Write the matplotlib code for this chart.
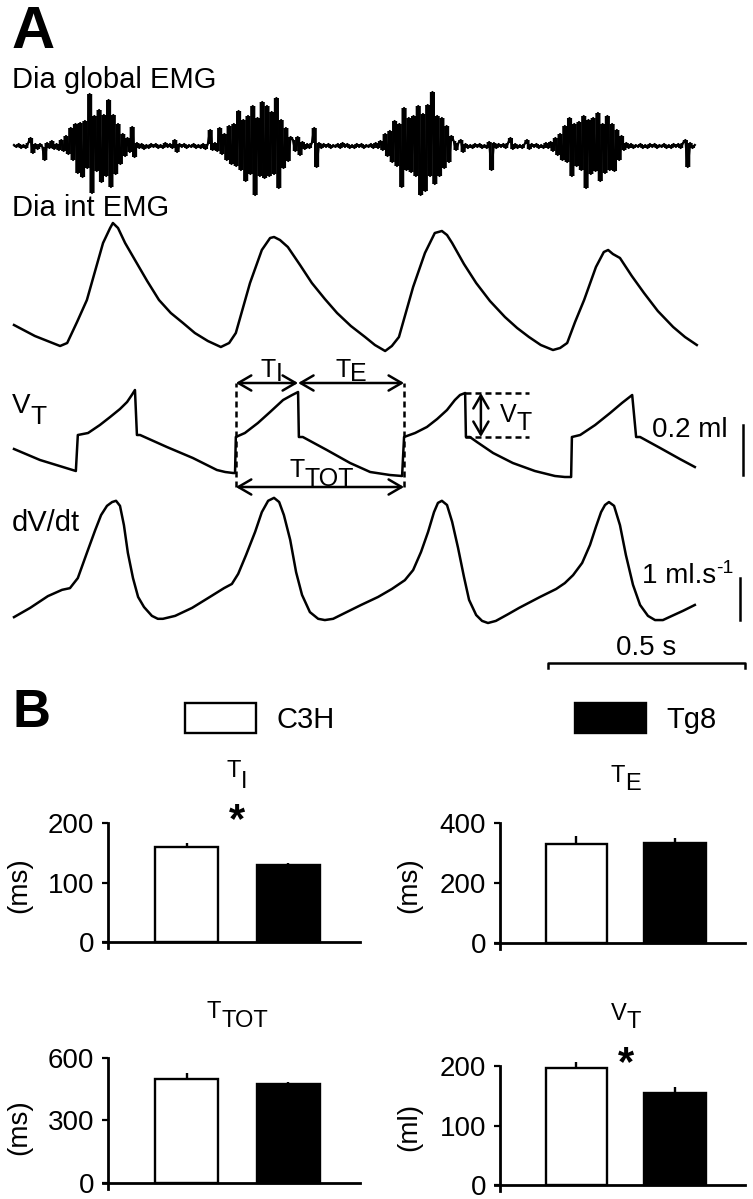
import numpy as np
import matplotlib
matplotlib.use("Agg")
import matplotlib.pyplot as plt
import matplotlib.transforms as mtransforms
from matplotlib.patches import Patch

plt.rcParams['font.family'] = ['Liberation Sans', 'DejaVu Sans']
plt.rcParams['path.simplify'] = False

# ---------------------------------------------------------------- data
# Panel A -- Dia global EMG (arbitrary units, sampled every 6 ms)
emg_step_ms = 6
emg_values = [1, -1, 2, -2, 1, -2, 3, 8, -7, 2, -3, 2, -1, -14, 3, -2, 5, -3, 2, -4, 6, -5,
              10, -8, 18, -14, 22, -27, 23, -31, 25, -22, 52, -47, 30, -25, 36, -36, 31, -30,
              46, -41, 31, -28, 22, -18, 12, -10, 8, -6,
              19, -11, 3, -2, 2, -3, 1, -2, 2, -1, 2, -2, 1, -2, 3, -1, 2, -2, 6, -6, 2, -1, 2,
              -2, 1, -1, 2, -2, 1, -2, 2, -3, 2, 16, -4, 3, -5, 18, -8,
              12, -14, 20, -18, 22, -20, 35, -24, 26, -35, 30, -28, 40, -49, 28, -30, 44, -32,
              40, -30, 34, -28, 48, -42, 26, -22, 18, -15, 9,
              6, -5, 9, -9, 4, -3, 2, -2, 3, 18, -21, 3, -2, 2, -1, 2, -2, 1, -1, 2, -2, 3, -1,
              2, -2, 1, -2, 2, -1, 2, -2, 1, -1, 2, -2, 3, -2, 5, -4,
              12, -10, 15, -16, 25, -20, 22, -41, 38, -24, 28, -26, 30, -30, 40, -49, 32, -45,
              41, -30, 54, -38, 30, -30, 28, -22, 20, -16, 10,
              5, -4, 3, 6, -6, 2, -2, 1, -2, 2, -1, 2, -2, 1, -2, 4, -24, 3, -2, 2, -1, 2, -2,
              3, 8, -3, 2, -2, 1, -2, 2, 6, -3, 2, -1, 2, -2, 1, -2, 3, -2, 4, -5,
              8, -9, 12, -14, 20, -16, 28, -30, 22, -20, 24, -24, 30, -42, 26, -28, 28, -25,
              33, -35, 22, -27, 30, -24, 22, -25, 16, -14, 10,
              -4, 3, -2, 2, -2, 1, -1, 2, -2, 1, -2, 2, -1, 2, -2, 1, -1, 2, -2, 1, -2, 2, -1,
              2, -2, 3, 6, -21, 3, -2, 1]

# Dia int EMG (ms, arbitrary units)
int_emg_t = [0, 53, 117, 135, 160, 185, 208, 226, 244, 251, 264, 282, 307, 338, 368, 398, 429,
             459, 492, 525, 546, 563, 581, 599, 629, 650, 660, 675, 695, 726, 756, 789, 820,
             855, 891, 916, 942, 959, 977, 995, 1013, 1043, 1068, 1086, 1099, 1112, 1142,
             1173, 1208, 1246, 1277, 1307, 1337, 1368, 1386, 1404, 1424, 1447, 1477, 1497,
             1508, 1520, 1538, 1568, 1599, 1634, 1673, 1703, 1733]
int_emg_au = [3.5, 2.4, 1.4, 1.7, 3.8, 6.0, 9.2, 11.7, 13.2, 13.7, 13.2, 11.7, 10.0, 7.9, 6.0,
              4.7, 3.7, 2.7, 1.9, 1.3, 1.7, 2.7, 5.2, 7.7, 11.0, 12.2, 12.3, 12.0, 11.3, 9.5,
              7.7, 6.1, 4.7, 3.4, 2.3, 1.5, 0.9, 1.4, 2.3, 4.8, 7.3, 10.7, 12.7, 12.9, 12.5,
              11.7, 9.6, 7.7, 5.9, 4.3, 3.2, 2.3, 1.5, 1.0, 1.2, 1.7, 3.8, 6.0, 9.3, 10.8,
              11.0, 10.6, 10.2, 8.4, 6.7, 4.9, 3.3, 2.3, 1.5]

# Volume trace (ms, ml)
vt_t = [0, 66, 157, 162, 188, 218, 244, 269, 287, 299, 307, 312, 320, 388, 454, 515, 536, 556,
        561, 563, 586, 619, 650, 683, 706, 721, 723, 733, 794, 853, 904, 954, 985, 990, 1018,
        1048, 1074, 1099, 1119, 1132, 1145, 1147, 1157, 1175, 1216, 1266, 1322, 1373, 1398,
        1414, 1416, 1437, 1475, 1513, 1543, 1569, 1579, 1589, 1640, 1690, 1728]
vt_ml = [0.124, 0.080, 0.036, 0.180, 0.188, 0.220, 0.252, 0.284, 0.312, 0.340, 0.360, 0.180,
         0.180, 0.132, 0.088, 0.040, 0.032, 0.028, 0.028, 0.172, 0.188, 0.228, 0.272, 0.320,
         0.340, 0.352, 0.172, 0.172, 0.120, 0.068, 0.032, 0.020, 0.016, 0.172, 0.188, 0.212,
         0.244, 0.280, 0.320, 0.340, 0.348, 0.172, 0.172, 0.152, 0.108, 0.068, 0.036, 0.016,
         0.012, 0.012, 0.172, 0.180, 0.220, 0.268, 0.308, 0.340, 0.172, 0.172, 0.128, 0.084,
         0.052]

# Flow trace dV/dt (ms, ml/s)
dvdt_t = [0, 41, 86, 122, 142, 162, 185, 206, 221, 236, 249, 259, 269, 279, 289, 302, 315, 330,
          350, 365, 378, 409, 452, 497, 533, 553, 569, 589, 612, 629, 645, 660, 673, 685, 701,
          716, 731, 751, 772, 789, 810, 840, 881, 924, 959, 992, 1013, 1033, 1051, 1066, 1076,
          1086, 1099, 1112, 1127, 1142, 1155, 1173, 1188, 1203, 1223, 1254, 1282, 1335, 1376,
          1398, 1419, 1442, 1462, 1477, 1490, 1500, 1510, 1523, 1538, 1553, 1571, 1589, 1609,
          1627, 1647, 1670, 1698, 1728]
dvdt_mls = [-0.17, 0.05, 0.33, 0.48, 0.52, 0.76, 1.36, 1.90, 2.26, 2.48, 2.57, 2.60, 2.48, 2.02,
            1.36, 0.76, 0.31, 0.07, -0.14, -0.21, -0.21, -0.14, 0.05, 0.31, 0.52, 0.62, 0.86,
            1.31, 1.86, 2.33, 2.60, 2.67, 2.57, 2.26, 1.67, 0.90, 0.36, -0.05, -0.21, -0.24,
            -0.21, -0.07, 0.12, 0.31, 0.50, 0.71, 0.95, 1.38, 1.86, 2.33, 2.55, 2.60, 2.50,
            2.10, 1.48, 0.79, 0.24, -0.12, -0.26, -0.31, -0.26, -0.10, 0.05, 0.31, 0.50, 0.64,
            0.83, 1.12, 1.55, 1.98, 2.33, 2.50, 2.57, 2.48, 2.02, 1.31, 0.60, 0.12, -0.14,
            -0.24, -0.24, -0.14, -0.02, 0.12]

# timing events of the annotated breath (ms) and VT annotation (ms, ml)
ti_start_ms = 563
ti_end_ms = 721
te_end_ms = 990
vt_annot_start_ms = 1145
vt_annot_top_ml = 0.348
vt_annot_base_ml = 0.172

# scale bars
scale_time_ms = 500
scale_vt_ml = 0.2
scale_flow_mls = 1.0

# Panel B
groups = ['C3H', 'Tg8']
ti_mean = [159, 130]
ti_sem = [8, 3]
te_mean = [330, 334]
te_sem = [28, 17]
ttot_mean = [499, 474]
ttot_sem = [31, 12]
vtb_mean = [196, 155]
vtb_sem = [10, 9]

# ---------------------------------------------------------------- layout
W, H = 753, 1199
DPI = 100
FS = 20      # tick labels / scale text
FSA = 21     # panel A trace names
FST = 17     # T_I, T_E ... titles in panel B
LW = 1.8
fig = plt.figure(figsize=(W / DPI, H / DPI), dpi=DPI)
fig.patch.set_facecolor('white')
renderer = fig.canvas.get_renderer()


def rect(l, t, r, b):
    return [l / W, 1 - b / H, (r - l) / W, (b - t) / H]


def ftext(x, y, s, **kw):
    kw.setdefault('fontsize', FS)
    return fig.text(x / W, 1 - y / H, s, **kw)


def text_w(s, size, **kw):
    t = fig.text(0, 0, s, fontsize=size, **kw)
    w = t.get_window_extent(renderer).width
    t.remove()
    return w


def sub_text(host, x, y, main, sub, size, ratio=0.95, dy=-8, ha='left', transform=None, gap=0.0):
    """main text with a (sub/super)script placed by pixel offset dy."""
    tr = transform if transform is not None else host.transData
    w1 = text_w(main, size)
    w2 = text_w(sub, size * ratio)
    x0 = -(w1 + gap + w2) / 2 if ha == 'center' else 0
    host.text(x, y, main, fontsize=size, ha='left', va='baseline',
              transform=mtransforms.offset_copy(tr, fig=fig, x=x0, y=0, units='dots'))
    host.text(x, y, sub, fontsize=size * ratio, ha='left', va='baseline',
              transform=mtransforms.offset_copy(tr, fig=fig, x=x0 + w1 + gap, y=dy,
                                                units='dots'))


MS_PER_PX = scale_time_ms / 197.0
X0 = 14


def t_at(px):
    return (px - X0) * MS_PER_PX


XLIM = (t_at(0), t_at(W))


def trace_ax(top, bottom, ylim):
    ax = fig.add_axes(rect(0, top, W, bottom))
    ax.set_xlim(*XLIM)
    ax.set_ylim(*ylim)
    ax.axis('off')
    return ax


# ---- EMG : each sample drawn as a vertical stroke to its neighbour, plus the trace itself
ax_emg = trace_ax(85, 205, (-59, 61))
emg_t = np.arange(len(emg_values)) * emg_step_ms
ev = np.asarray(emg_values, dtype=float)
ax_emg.vlines((emg_t[:-1] + emg_t[1:]) / 2, np.minimum(ev[:-1], ev[1:]),
              np.maximum(ev[:-1], ev[1:]), color='black', lw=2.0, snap=False)
ax_emg.plot(emg_t, emg_values, color='black', lw=1.6, snap=False)

# ---- integrated EMG
ax_int = trace_ax(215, 360, (0, 14.5))
ax_int.plot(int_emg_t, int_emg_au, color='black', lw=LW)

# ---- VT
ax_vt = trace_ax(365, 495, (-0.06, 0.46))
ax_vt.plot(vt_t, vt_ml, color='black', lw=LW)

arrow_kw = dict(arrowstyle='<->,head_length=0.55,head_width=0.32', lw=LW, color='black',
                shrinkA=0, shrinkB=0, mutation_scale=17)
y_arrow_top = 0.388
y_arrow_bot = -0.028
dash = (0, (2.4, 1.6))
for tt in (ti_start_ms, te_end_ms):
    ax_vt.plot([tt, tt], [y_arrow_bot, y_arrow_top], color='black', lw=LW, ls=dash)
ax_vt.annotate('', xy=(ti_start_ms, y_arrow_top), xytext=(ti_end_ms, y_arrow_top),
               arrowprops=arrow_kw)
ax_vt.annotate('', xy=(ti_end_ms, y_arrow_top), xytext=(te_end_ms, y_arrow_top),
               arrowprops=arrow_kw)
ax_vt.annotate('', xy=(ti_start_ms, y_arrow_bot), xytext=(te_end_ms, y_arrow_bot),
               arrowprops=arrow_kw)
sub_text(ax_vt, (ti_start_ms + ti_end_ms) / 2 + 12, 0.412, 'T', 'I', 18, 1.0, -4, 'center')
sub_text(ax_vt, (ti_end_ms + te_end_ms) / 2, 0.412, 'T', 'E', 18, 1.0, -4, 'center')
sub_text(ax_vt, (ti_start_ms + te_end_ms) / 2 + 5, 0.012, 'T', 'TOT', 18, 1.0, -9, 'center')

vt_annot_end = vt_annot_start_ms + 162
for yy in (vt_annot_top_ml, vt_annot_base_ml):
    ax_vt.plot([vt_annot_start_ms, vt_annot_end], [yy, yy], color='black', lw=LW, ls=dash)
ax_vt.annotate('', xy=(vt_annot_start_ms + 40, vt_annot_top_ml),
               xytext=(vt_annot_start_ms + 40, vt_annot_base_ml), arrowprops=arrow_kw)
sub_text(ax_vt, vt_annot_start_ms + 88, 0.232, 'V', 'T', 18, 1.0, -8)

# VT scale bar
ax_vt.plot([t_at(743)] * 2, [0.02, 0.02 + scale_vt_ml], color='black', lw=LW)
ax_vt.text(t_at(728), 0.172, '0.2 ml', ha='right', va='baseline', fontsize=FS)

# ---- dV/dt
ax_fl = trace_ax(490, 680, (-1.667, 2.857))
ax_fl.plot(dvdt_t, dvdt_mls, color='black', lw=LW)
ax_fl.plot([t_at(740)] * 2, [-0.238, -0.238 + scale_flow_mls], color='black', lw=LW)
sub_text(ax_fl, t_at(642), 0.643, '1 ml.s', '-1', FS, 0.7, 10)
tb0 = t_at(548)
ax_fl.plot([tb0, tb0, tb0 + scale_time_ms, tb0 + scale_time_ms],
           [-1.38, -1.262, -1.262, -1.38], color='black', lw=LW)
ax_fl.text(tb0 + scale_time_ms / 2, -1.071, '0.5 s', ha='center', va='baseline', fontsize=FS)

# ---- panel A labels
ftext(12, 48, 'A', fontsize=43, fontweight='bold', va='baseline')
ftext(12, 88, 'Dia global EMG', fontsize=FSA, va='baseline')
ftext(12, 216, 'Dia int EMG', fontsize=FSA, va='baseline')
sub_text(fig, 12 / W, 1 - 413 / H, 'V', 'T', 20, 0.95, -11, transform=fig.transFigure)
ftext(12, 531, 'dV/dt', fontsize=FSA, va='baseline')

# ---------------------------------------------------------------- panel B
ftext(13, 727, 'B', fontsize=38, fontweight='bold', va='baseline')

colors = ['white', 'black']
XL = (-0.823, 1.709)


def bar_panel(r, ylim, yticks, means, sems, title, sub, title_y, sub_dy, ylabel, ylabel_px,
              star_y=None):
    ax = fig.add_axes(rect(*r))
    x = np.arange(len(groups))
    ax.bar(x, means, width=0.62, color=colors, edgecolor='black', linewidth=1.7, zorder=2)
    eb = ax.errorbar(x, means, yerr=[[0] * len(sems), sems], fmt='none', ecolor='black',
                     elinewidth=1.7, capsize=0, zorder=1)
    for coll in eb.lines[2]:
        coll.set_clip_on(False)
    ax.set_xlim(*XL)
    ax.set_ylim(*ylim)
    for s in ('top', 'right'):
        ax.spines[s].set_visible(False)
    ax.spines['left'].set_position(('data', -0.773))
    ax.spines['bottom'].set_position(('data', 0))
    for s in ('left', 'bottom'):
        ax.spines[s].set_linewidth(2.0)
        ax.spines[s].set_zorder(3)
    ax.set_xticks([])
    ax.set_yticks(yticks)
    ax.tick_params(axis='y', length=4, width=1.6, pad=6, labelsize=FS)
    ax.patch.set_alpha(0)
    sub_text(ax, 0.5, title_y, title, sub, FST, 1.0, sub_dy, 'center')
    if star_y is not None:
        ax.text(0.5, star_y, '*', ha='center', va='baseline', fontsize=30, fontweight='bold',
                clip_on=False)
    ftext(ylabel_px[0], ylabel_px[1], ylabel, rotation=90, ha='center', va='center')
    return ax


# title baselines: TI 775 px, TE 782 px, TTOT 1018 px, VT 1020 px
bar_panel((103, 823, 360, 948), (-10, 200), [0, 100, 200], ti_mean, ti_sem,
          'T', 'I', 278, -11, '(ms)', (19, 885), star_y=184)
bar_panel((495, 823, 745, 949), (-20, 400), [0, 200, 400], te_mean, te_sem,
          'T', 'E', 537, -8, '(ms)', (409, 885))
bar_panel((103, 1058, 360, 1189), (-29, 600), [0, 300, 600], ttot_mean, ttot_sem,
          'T', 'TOT', 792, -9, '(ms)', (19, 1127))
bar_panel((495, 1066, 745, 1191), (-10, 200), [0, 100, 200], vtb_mean, vtb_sem,
          'V', 'T', 277, -8, '(ml)', (409, 1127), star_y=185)

# legend
FSL = 21
lfs = FSL * DPI / 72.0
hh = (30 / lfs - 0.245) / 0.65
for (xpx, lab, col) in ((185, groups[0], colors[0]), (575, groups[1], colors[1])):
    h = Patch(facecolor=col, edgecolor='black', linewidth=1.7)
    fig.legend([h], [lab], loc='upper left', bbox_to_anchor=(xpx / W, 1 - 703 / H),
               frameon=False, fontsize=FSL, borderpad=0, borderaxespad=0,
               handlelength=71 / lfs, handleheight=hh, handletextpad=0.7)

fig.savefig('out.png', dpi=DPI, facecolor='white')
